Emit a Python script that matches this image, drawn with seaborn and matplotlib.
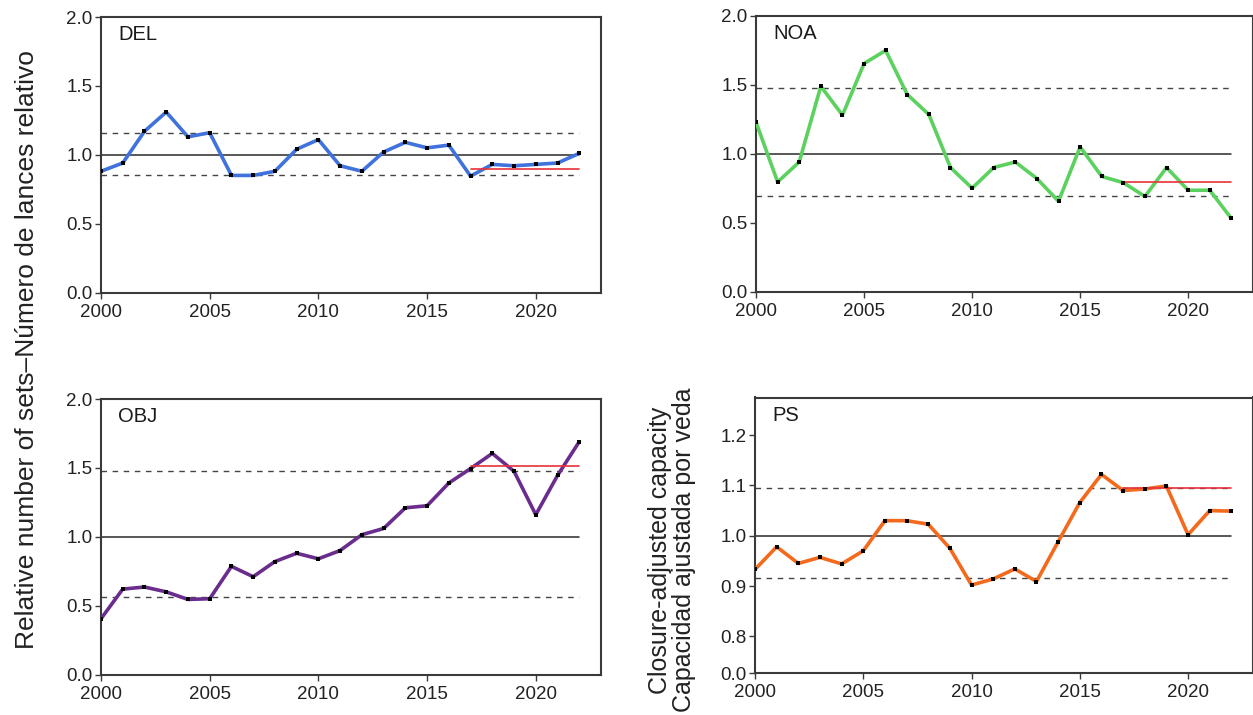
import numpy as np
import pandas as pd
import matplotlib
matplotlib.use("Agg")
import matplotlib.pyplot as plt
import seaborn as sns

years = list(range(2000, 2023))

del_vals = [0.88, 0.94, 1.17, 1.31, 1.13, 1.16, 0.85, 0.85, 0.88, 1.04, 1.11, 0.92,
            0.88, 1.02, 1.09, 1.05, 1.07, 0.845, 0.93, 0.92, 0.93, 0.94, 1.01]
noa_vals = [1.23, 0.795, 0.94, 1.49, 1.28, 1.655, 1.75, 1.43, 1.285, 0.90, 0.75, 0.90,
            0.94, 0.82, 0.655, 1.05, 0.835, 0.79, 0.69, 0.90, 0.735, 0.735, 0.53]
obj_vals = [0.405, 0.62, 0.635, 0.60, 0.545, 0.55, 0.785, 0.71, 0.82, 0.88, 0.84, 0.90,
            1.015, 1.06, 1.21, 1.225, 1.39, 1.495, 1.605, 1.475, 1.16, 1.445, 1.69]
ps_vals = [0.933, 0.978, 0.945, 0.957, 0.944, 0.970, 1.030, 1.030, 1.023, 0.975, 0.902,
           0.914, 0.934, 0.909, 0.988, 1.066, 1.122, 1.090, 1.093, 1.099, 1.002, 1.050, 1.049]

# reference levels: (lower dashed, upper dashed, recent-years level)
del_refs = (0.85, 1.155, 0.90)
noa_refs = (0.693, 1.476, 0.795)
obj_refs = (0.56, 1.48, 1.515)
ps_refs = (0.916, 1.095, 1.095)

labels = ["DEL", "NOA", "OBJ", "PS"]
colors = ["#3f72dc", "#5cd160", "#6a2d8e", "#f46a1c"]

sns.set_style("ticks")
plt.rcParams["font.family"] = ["Liberation Sans", "DejaVu Sans"]
plt.rcParams["axes.edgecolor"] = "#3a3a3a"
plt.rcParams["xtick.color"] = "#3a3a3a"
plt.rcParams["ytick.color"] = "#3a3a3a"
plt.rcParams["xtick.labelcolor"] = "#222222"
plt.rcParams["ytick.labelcolor"] = "#222222"

fig = plt.figure(figsize=(12.53, 7.15), dpi=100)

W, H = 1253, 715
boxes = [
    (101, 17, 500, 275.5),
    (756, 16, 497, 275.5),
    (101, 399, 500, 275.5),
    (755, 397.5, 498, 275.5),
]

series = [del_vals, noa_vals, obj_vals, ps_vals]
refs = [del_refs, noa_refs, obj_refs, ps_refs]

# compressed lower segment for the capacity panel (0.0 to 0.8 squeezed)
k = 0.073 / 0.8


def fwd(y):
    y = np.asarray(y, dtype=float)
    return np.where(y >= 0.8, y, 0.8 - (0.8 - y) * k)


def inv(v):
    v = np.asarray(v, dtype=float)
    return np.where(v >= 0.8, v, 0.8 - (0.8 - v) / k)


for i, (lab, col, vals, (lo, hi, recent)) in enumerate(zip(labels, colors, series, refs)):
    x0, y0, w, h = boxes[i]
    ax = fig.add_axes([x0 / W, 1 - (y0 + h) / H, w / W, h / H])
    df = pd.DataFrame({"year": years, "value": vals})

    ax.plot([2000, 2022], [1.0, 1.0], color="#2a2a2a", lw=1.1, zorder=2)
    ax.plot([2000, 2022], [hi, hi], color="#444444", lw=1.0, ls=(0, (4, 4)), zorder=2)
    ax.plot([2000, 2022], [lo, lo], color="#444444", lw=1.0, ls=(0, (4, 4)), zorder=2)

    sns.lineplot(data=df, x="year", y="value", ax=ax, color=col, lw=2.6,
                 zorder=3, legend=False)
    ax.plot([2017, 2022], [recent, recent], color="#e8313a", lw=1.2, zorder=4)
    sns.scatterplot(data=df, x="year", y="value", ax=ax, color="black", marker="s",
                    s=10, edgecolor="black", linewidth=0, zorder=5, legend=False)

    ax.set_xlim(2000, 2023)
    ax.set_xticks([2000, 2005, 2010, 2015, 2020])
    if lab == "PS":
        ax.set_yscale("function", functions=(fwd, inv))
        ax.set_ylim(0, 1.275)
        ax.set_yticks([0.0, 0.8, 0.9, 1.0, 1.1, 1.2])
    else:
        ax.set_ylim(0, 2.0)
        ax.set_yticks([0.0, 0.5, 1.0, 1.5, 2.0])
    ax.yaxis.set_major_formatter(matplotlib.ticker.FormatStrFormatter("%.1f"))
    ax.set_xlabel("")
    ax.set_ylabel("")
    ax.tick_params(labelsize=13.5, length=4, width=1.0)
    ax.tick_params(axis="x", pad=4)
    ax.tick_params(axis="y", pad=2)
    for sp in ax.spines.values():
        sp.set_linewidth(1.5)
        sp.set_visible(True)
    ax.text(0.035, 0.915, lab, transform=ax.transAxes, fontsize=14.5,
            color="#1a1a1a", va="baseline", ha="left")

fig.text(27 / W, 1 - 350 / H, "Relative number of sets\u2013N\u00famero de lances relativo",
         rotation=90, ha="center", va="center", fontsize=19, color="#222222")
fig.text(672 / W, 1 - 550 / H, "Closure-adjusted capacity\nCapacidad ajustada por veda",
         rotation=90, ha="center", va="center", fontsize=18, color="#222222",
         linespacing=0.95)

fig.savefig("out.png", dpi=100)
